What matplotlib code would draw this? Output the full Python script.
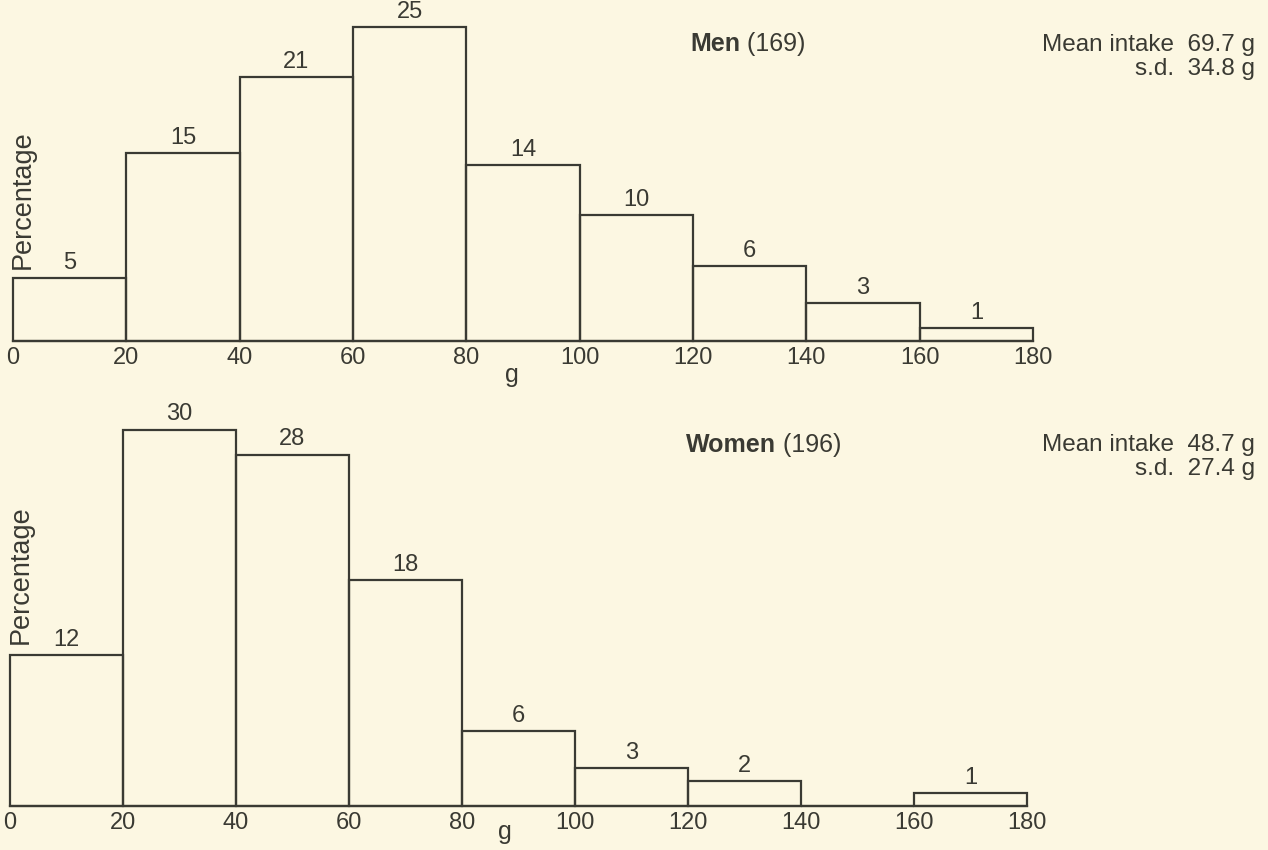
import matplotlib
matplotlib.use("Agg")
import matplotlib.pyplot as plt

# Data
bin_edges = [0, 20, 40, 60, 80, 100, 120, 140, 160]
bin_width = 20
men_pct = [5, 15, 21, 25, 14, 10, 6, 3, 1]
women_pct = [12, 30, 28, 18, 6, 3, 2, 0, 1]
tick_values = [0, 20, 40, 60, 80, 100, 120, 140, 160, 180]
men_title = ("Men", "(169)")
women_title = ("Women", "(196)")
men_stats = ["Mean intake  69.7 g", "s.d.  34.8 g"]
women_stats = ["Mean intake  48.7 g", "s.d.  27.4 g"]

BG = "#fcf7e2"
INK = "#3a3a33"
FONT = "Liberation Sans"
FS = 17

plt.rcParams['font.family'] = [FONT, 'DejaVu Sans']

W, H = 1268, 850
fig = plt.figure(figsize=(W / 100, H / 100), dpi=100, facecolor=BG)


def fx(px):
    return px / W


def fy(py):
    return 1 - py / H


def panel(left_px, right_px, base_px, ymax, values, title, stats, title_px, stats_y_px,
          perc_px, g_px):
    pxper = 12.55
    height_px = ymax * pxper
    ax = fig.add_axes([fx(left_px), fy(base_px), (right_px - left_px) / W, height_px / H])
    ax.set_facecolor("none")
    ax.bar(bin_edges, values, width=bin_width, align='edge', fill=False,
           edgecolor=INK, linewidth=1.6, clip_on=False)
    for x0, v in zip(bin_edges, values):
        if v > 0:
            ax.annotate(str(v), xy=(x0 + bin_width / 2, v), xytext=(0, 3),
                        textcoords='offset points', ha='center', va='bottom',
                        fontsize=FS, color=INK)
    ax.set_xlim(0, 180)
    ax.set_ylim(0, ymax)
    for s in ['top', 'right', 'left']:
        ax.spines[s].set_visible(False)
    ax.spines['bottom'].set_color(INK)
    ax.spines['bottom'].set_linewidth(1.6)
    ax.set_yticks([])
    ax.set_xticks(tick_values)
    ax.set_xticklabels([str(t) for t in tick_values])
    ax.tick_params(axis='x', length=0, pad=4, labelsize=FS, labelcolor=INK)
    # title
    t = fig.text(fx(title_px[0]), fy(title_px[1]), title[0], fontsize=18,
                 fontweight='bold', color=INK, ha='left', va='center')
    ax.annotate(" " + title[1], xy=(1, 0.5), xycoords=t, ha='left', va='center',
                fontsize=18, color=INK)
    # stats
    fig.text(fx(1255), fy(stats_y_px), stats[0], fontsize=17.5, color=INK,
             ha='right', va='center')
    fig.text(fx(1255), fy(stats_y_px + 24), stats[1], fontsize=17.5, color=INK,
             ha='right', va='center')
    fig.text(fx(perc_px[0]), fy(perc_px[1]), "Percentage", rotation=90,
             fontsize=19.5, color=INK, ha='center', va='center')
    fig.text(fx(g_px[0]), fy(g_px[1]), "g", fontsize=FS + 1, color=INK,
             ha='center', va='center')
    return ax


panel(13, 1033, 341, 26, men_pct, men_title, men_stats, (690, 44), 45,
      (23, 200), (512, 375))
panel(10, 1027, 806, 31, women_pct, women_title, women_stats, (686, 445), 445,
      (21, 575), (505, 832))

fig.savefig("out.png", dpi=100, facecolor=BG)
